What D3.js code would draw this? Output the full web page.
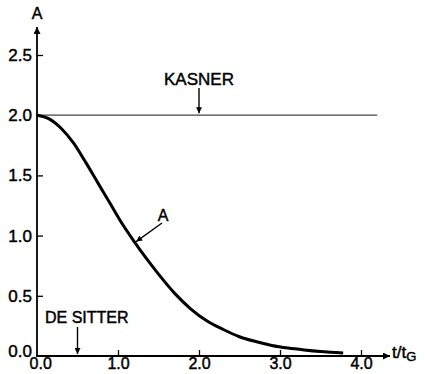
<!DOCTYPE html>
<meta charset="utf-8">
<script src="https://d3js.org/d3.v7.min.js"></script>
<style>
  body { margin: 0; background: #fff; }
  svg text { font-family: "Liberation Sans", Arial, sans-serif; fill: #000; stroke: #000; stroke-width: 0.45px; }
</style>
<div id="chart"></div>
<script>
  // curve A(t)
  var tVals = [0, 0.15, 0.3, 0.45, 0.6, 0.75, 0.9, 1.05, 1.2, 1.35, 1.5, 1.7, 1.9, 2.1, 2.3, 2.5, 2.7, 2.9, 3.1, 3.3, 3.5, 3.78];
  var aVals = [2.0, 1.97, 1.89, 1.77, 1.61, 1.44, 1.27, 1.10, 0.95, 0.81, 0.68, 0.52, 0.39, 0.29, 0.22, 0.16, 0.12, 0.088, 0.066, 0.05, 0.037, 0.025];
  var xTicks = [0, 1, 2, 3, 4];
  var yTicks = [0, 0.5, 1, 1.5, 2, 2.5];
  var kasnerLevel = 2.0;
  var kasnerEnd = 4.2;
  var deSitterAt = 0.5;
  var kasnerAt = 2.0;
  var aLabelAt = 1.2;

  var width = 425, height = 374;

  var svg = d3.select("#chart").append("svg")
    .attr("width", width)
    .attr("height", height);

  var x = d3.scaleLinear().domain([0, 4]).range([37, 361]);
  var y = d3.scaleLinear().domain([0, 2.5]).range([356, 55]);

  // arrow heads
  var defs = svg.append("defs");
  defs.append("marker")
    .attr("id", "head")
    .attr("viewBox", "0 0 10 10")
    .attr("refX", 10).attr("refY", 5)
    .attr("markerWidth", 10).attr("markerHeight", 7)
    .attr("markerUnits", "userSpaceOnUse")
    .attr("orient", "auto")
    .append("path")
    .attr("d", "M0,0 L10,5 L0,10 Z")
    .attr("fill", "#000");
  defs.append("marker")
    .attr("id", "headSmall")
    .attr("viewBox", "0 0 10 10")
    .attr("refX", 10).attr("refY", 5)
    .attr("markerWidth", 7).attr("markerHeight", 6)
    .attr("markerUnits", "userSpaceOnUse")
    .attr("orient", "auto")
    .append("path")
    .attr("d", "M0,0 L10,5 L0,10 Z")
    .attr("fill", "#000");

  // Kasner line
  svg.append("line")
    .attr("x1", x(0)).attr("x2", x(kasnerEnd))
    .attr("y1", y(kasnerLevel)).attr("y2", y(kasnerLevel))
    .attr("stroke", "#444")
    .attr("stroke-width", 1.3);

  // axes
  var xAxis = svg.append("g")
    .attr("transform", "translate(0," + y(0) + ")")
    .call(d3.axisBottom(x).tickValues(xTicks).tickFormat(d3.format(".1f"))
      .tickSizeInner(-6).tickSizeOuter(0).tickPadding(2));
  var yAxis = svg.append("g")
    .attr("transform", "translate(" + x(0) + ",0)")
    .call(d3.axisLeft(y).tickValues(yTicks).tickFormat(d3.format(".1f"))
      .tickSizeInner(-6).tickSizeOuter(0).tickPadding(5));
  [xAxis, yAxis].forEach(function (g) {
    g.select(".domain").remove();
    g.selectAll(".tick line").attr("stroke", "#000").attr("stroke-width", 1.3);
    g.selectAll(".tick text").style("font-size", "16px").attr("fill", "#000");
  });
  yAxis.selectAll(".tick text").style("font-size", "17px");
  xAxis.selectAll(".tick").filter(function (d) { return d === 0; }).select("line").remove();
  xAxis.selectAll(".tick").filter(function (d) { return d === 0; }).select("text").attr("dx", "0.2em");
  yAxis.selectAll(".tick").filter(function (d) { return d === 0; }).select("line").remove();
  yAxis.selectAll(".tick").filter(function (d) { return d === 0; }).select("text").attr("dy", "0.05em");

  svg.append("line")
    .attr("x1", x(0) - 1).attr("x2", 390)
    .attr("y1", y(0)).attr("y2", y(0))
    .attr("stroke", "#000").attr("stroke-width", 1.8)
    .attr("marker-end", "url(#head)");
  svg.append("line")
    .attr("x1", x(0)).attr("x2", x(0))
    .attr("y1", y(0) + 1).attr("y2", 27)
    .attr("stroke", "#000").attr("stroke-width", 1.8)
    .attr("marker-end", "url(#head)");

  // axis titles
  svg.append("text")
    .attr("x", x(0)).attr("y", 19)
    .attr("text-anchor", "middle")
    .style("font-size", "16px")
    .text("A");
  var xt = svg.append("text")
    .attr("x", 392).attr("y", 358)
    .style("font-size", "17px");
  xt.append("tspan").text("t/t");
  xt.append("tspan").attr("dy", 3).style("font-size", "13px").text("G");

  // curve A(t)
  var pts = tVals.map(function (t, i) { return [t, aVals[i]]; });
  svg.append("path")
    .datum(pts)
    .attr("fill", "none")
    .attr("stroke", "#000")
    .attr("stroke-width", 3)
    .attr("stroke-linecap", "butt")
    .attr("d", d3.line()
      .x(function (d) { return x(d[0]); })
      .y(function (d) { return y(d[1]); })
      .curve(d3.curveMonotoneX));

  // annotations
  svg.append("text")
    .attr("x", x(kasnerAt)).attr("y", 85)
    .attr("text-anchor", "middle")
    .style("font-size", "17px")
    .text("KASNER");
  svg.append("line")
    .attr("x1", x(kasnerAt)).attr("x2", x(kasnerAt))
    .attr("y1", 88).attr("y2", y(kasnerLevel) - 2)
    .attr("stroke", "#000").attr("stroke-width", 1.4)
    .attr("marker-end", "url(#headSmall)");

  svg.append("text")
    .attr("x", 45).attr("y", 323)
    .style("font-size", "16px")
    .text("DE SITTER");
  svg.append("line")
    .attr("x1", x(deSitterAt)).attr("x2", x(deSitterAt))
    .attr("y1", 327).attr("y2", y(0) - 2)
    .attr("stroke", "#000").attr("stroke-width", 1.4)
    .attr("marker-end", "url(#headSmall)");

  svg.append("text")
    .attr("x", 163).attr("y", 221)
    .attr("text-anchor", "middle")
    .style("font-size", "16px")
    .text("A");
  var aAt = aVals[tVals.indexOf(aLabelAt)];
  svg.append("line")
    .attr("x1", 162).attr("y1", 223)
    .attr("x2", x(aLabelAt) + 2).attr("y2", y(aAt))
    .attr("stroke", "#000").attr("stroke-width", 1.4)
    .attr("marker-end", "url(#headSmall)");
</script>
